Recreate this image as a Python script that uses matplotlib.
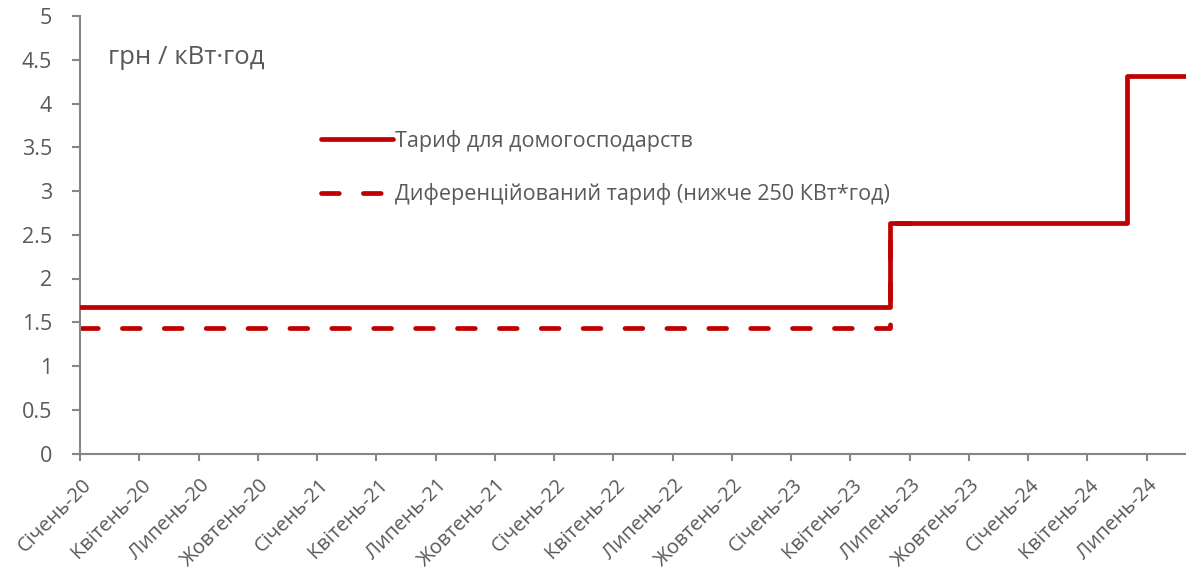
import numpy as np
import matplotlib
matplotlib.use('Agg')
import matplotlib.pyplot as plt
import matplotlib.transforms as mtransforms

# monthly series, Jan 2020 .. Sep 2024
months = ['Січень', 'Лютий', 'Березень', 'Квітень', 'Травень', 'Червень',
          'Липень', 'Серпень', 'Вересень', 'Жовтень', 'Листопад', 'Грудень']
years = ['20', '21', '22', '23', '24']
labels = [m + '-' + y for y in years for m in months][:57]

household = [1.68] * 41 + [2.64] * 12 + [4.32] * 4
diff_tariff = [1.44] * 41 + [2.64] + [np.nan] * 15

units = 'грн / кВт·год'
name_solid = 'Тариф для домогосподарств'
name_dash = 'Диференційований тариф (нижче 250 КВт*год)'

red = '#C00000'
grey = '#595959'
axgrey = '#868686'
plt.rcParams['font.family'] = ['Open Sans', 'DejaVu Sans']

fig = plt.figure(figsize=(11.86, 5.69), dpi=100)
ax = fig.add_axes([80/1186, 115.5/569, 1106/1186, 437.5/569])

x = np.arange(len(labels))
lw = 3.4
ax.plot(x, diff_tariff, drawstyle='steps-post', color=red, lw=lw,
        dashes=(3.77, 5.1), dash_capstyle='round', label=name_dash, zorder=2)
ax.plot(x, household, drawstyle='steps-post', color=red, lw=lw,
        solid_capstyle='round', label=name_solid, zorder=3)

ax.set_xlim(0, 56)
ax.set_ylim(0, 5)
ax.set_yticks(np.arange(0, 5.01, 0.5))
ax.set_yticklabels(['0', '0.5', '1', '1.5', '2', '2.5', '3', '3.5', '4', '4.5', '5'])
ax.set_xticks(x[::3])
ax.set_xticklabels(labels[::3], rotation=45, ha='right', va='baseline',
                   rotation_mode='anchor')

for s in ['top', 'right']:
    ax.spines[s].set_visible(False)
for s in ['left', 'bottom']:
    ax.spines[s].set_color(axgrey)
    ax.spines[s].set_linewidth(1.5)
ax.tick_params(axis='y', colors=axgrey, labelcolor=grey, labelsize=15.5,
               length=6, width=1.5, pad=14)
ax.tick_params(axis='x', colors=axgrey, labelcolor=grey, labelsize=14.5,
               length=5, width=1.5, pad=18)
shift = mtransforms.ScaledTranslation(0.12, 0, fig.dpi_scale_trans)
for t in ax.get_xticklabels():
    t.set_transform(t.get_transform() + shift)

fig.text(108/1186, 1 - 57/569, units, color=grey, fontsize=18.5, va='center')

h, l = ax.get_legend_handles_labels()
leg = ax.legend(h[::-1], l[::-1], loc='upper left',
                bbox_to_anchor=(312/1186, 1 - 121/569), bbox_transform=fig.transFigure,
                frameon=False, fontsize=15.5, handlelength=3.35, handletextpad=0.1,
                labelspacing=1.47, borderaxespad=0)
for t in leg.get_texts():
    t.set_color(grey)

fig.savefig('out.png', dpi=100)
